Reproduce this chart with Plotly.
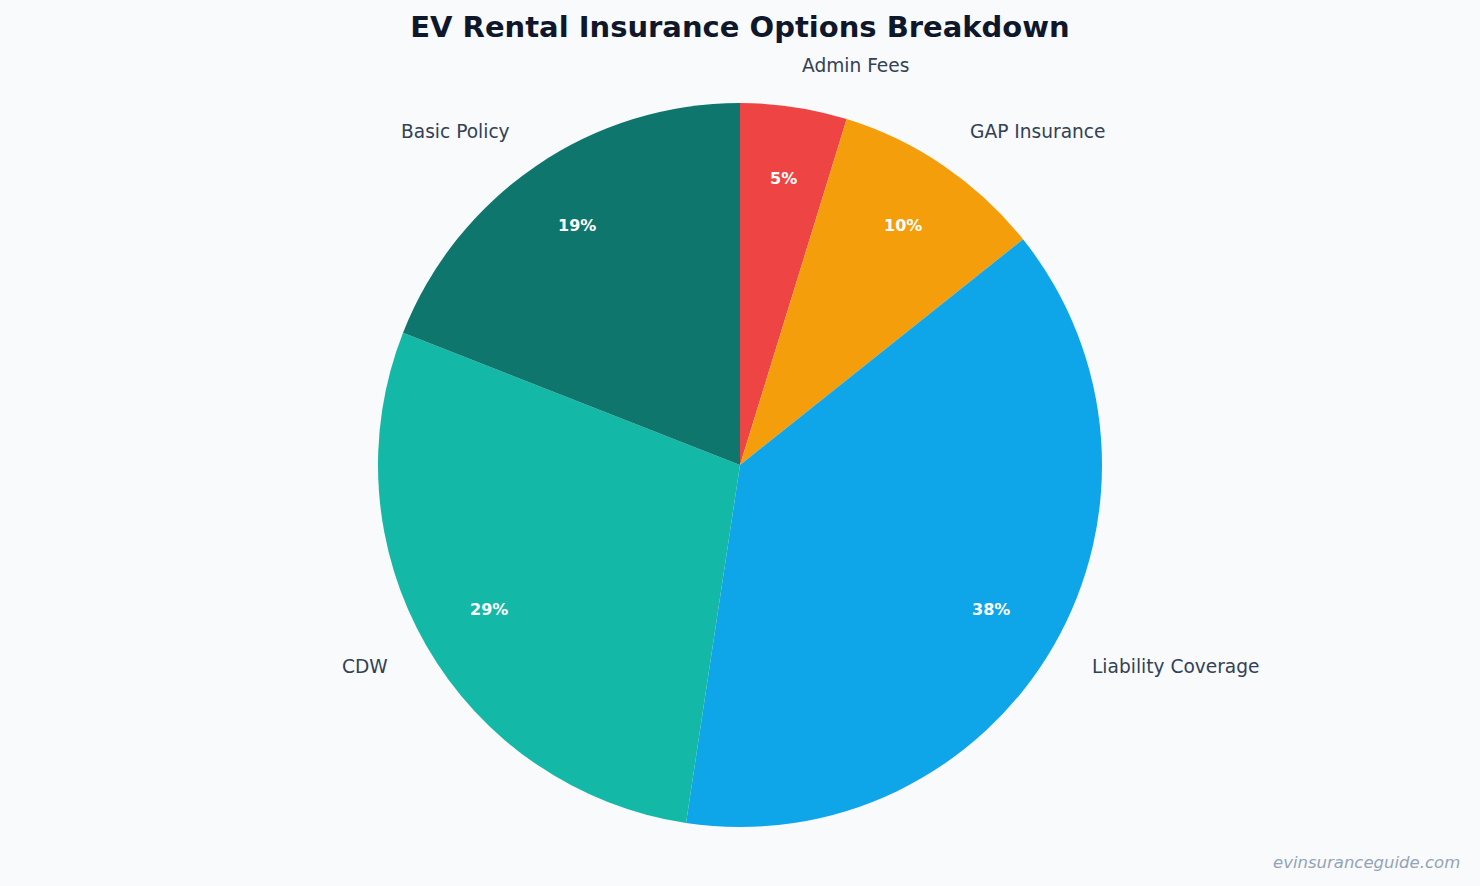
import math
import plotly.graph_objects as go

labels = ["Admin Fees", "GAP Insurance", "Liability Coverage", "CDW", "Basic Policy"]
values = [5, 10, 40, 30, 20]
colors = ["#ef4444", "#f59e0b", "#0ea5e9", "#14b8a6", "#0f766e"]

W, H = 1480, 886
M_T, M_B = 103, 59
R = (H - M_T - M_B) / 2

fig = go.Figure(go.Pie(
    labels=labels, values=values, sort=False, direction="clockwise",
    rotation=0, marker=dict(colors=colors, line=dict(width=0)),
    textinfo="none", hoverinfo="label+percent", showlegend=False,
))

total = sum(values)
annotations = []
cum = 0.0
for lab, v in zip(labels, values):
    frac = v / total
    mid = cum + frac / 2
    cum += frac
    # clockwise from 12 o'clock
    ang = 2 * math.pi * mid
    sx, sy = math.sin(ang), math.cos(ang)
    annotations.append(dict(
        x=0.5, y=0.5, xref="paper", yref="paper", showarrow=False,
        xshift=0.8 * R * sx, yshift=0.8 * R * sy,
        text=f"<b>{round(frac * 100)}%</b>",
        font=dict(family="DejaVu Sans", size=16, color="#ffffff"),
        xanchor="center", yanchor="middle",
    ))
    annotations.append(dict(
        x=0.5, y=0.5, xref="paper", yref="paper", showarrow=False,
        xshift=1.116 * R * sx, yshift=1.116 * R * sy,
        text=lab,
        font=dict(family="DejaVu Sans", size=18.6, color="#334155"),
        xanchor="left" if sx >= 0 else "right", yanchor="middle",
    ))

annotations.append(dict(
    x=1, y=0, xref="paper", yref="paper", showarrow=False,
    xshift=-18, yshift=-35, text="<i>evinsuranceguide.com</i>",
    font=dict(family="DejaVu Sans", size=16.5, color="#94a3b8"),
    xanchor="right", yanchor="middle",
))

fig.update_layout(
    width=W, height=H,
    paper_bgcolor="#f8fafc", plot_bgcolor="#f8fafc",
    margin=dict(l=0, r=0, t=M_T, b=M_B),
    title=dict(
        text="<b>EV Rental Insurance Options Breakdown</b>",
        x=0.5, xanchor="center", yref="container", y=1 - 27 / H, yanchor="middle",
        font=dict(family="DejaVu Sans", size=29, color="#0f172a"),
    ),
    annotations=annotations,
)

fig.write_html("out.html")
